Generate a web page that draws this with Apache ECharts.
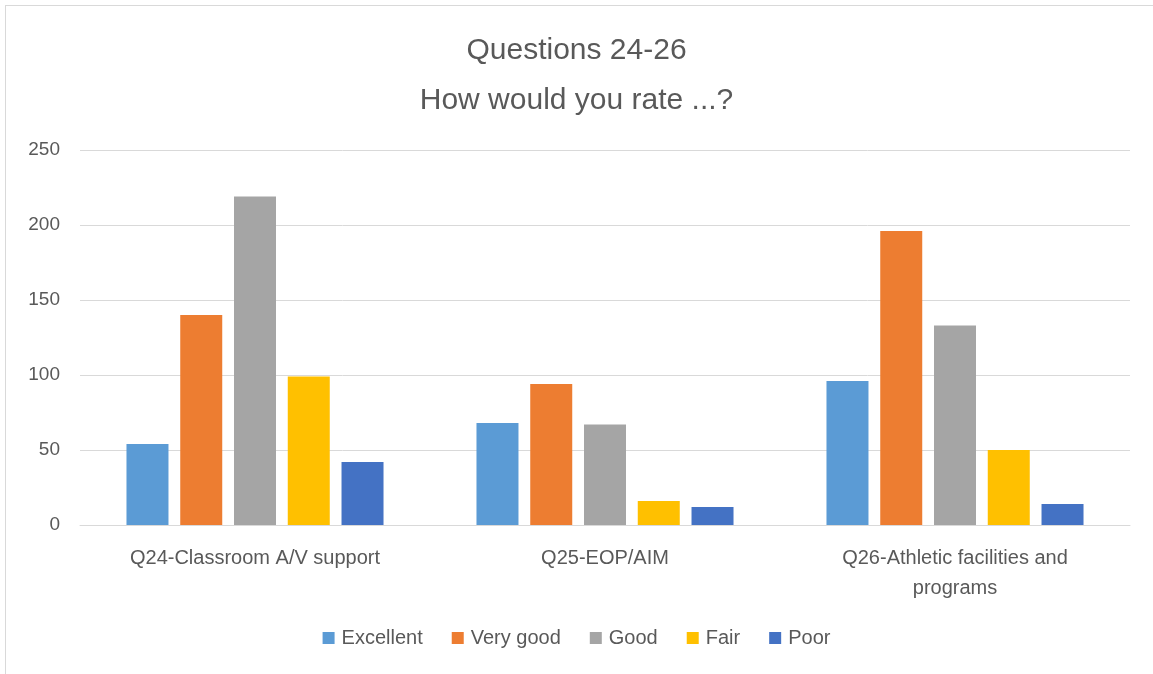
<!DOCTYPE html>
<html>
<head>
<meta charset="utf-8">
<script src="https://cdn.jsdelivr.net/npm/echarts@6/dist/echarts.min.js"></script>
<style>
  html, body { margin: 0; padding: 0; background: #fff; }
  #frame { position: absolute; left: 5px; top: 5px; width: 1160px; height: 680px; border: 1px solid #d9d9d9; }
  #main { position: absolute; left: 0; top: 0; width: 1153px; height: 674px; }
</style>
</head>
<body>
<div id="frame"></div>
<div id="main"></div>
<script>
var categories = ['Q24-Classroom A/V support', 'Q25-EOP/AIM', 'Q26-Athletic facilities and programs'];
var excellent = [54, 68, 96];
var veryGood = [140, 94, 196];
var good = [219, 67, 133];
var fair = [99, 16, 50];
var poor = [42, 12, 14];
var yTicks = [0, 50, 100, 150, 200, 250];

var myChart = echarts.init(document.getElementById('main'));
var textColor = '#595959';
var font = '"Liberation Sans", Arial, sans-serif';

// wrap long category names at word boundaries
function wrap(text) {
    var words = text.split(' ');
    var lines = [];
    var line = '';
    words.forEach(function (w) {
        if (line && (line + ' ' + w).length > 28) {
            lines.push(line);
            line = w;
        } else {
            line = line ? line + ' ' + w : w;
        }
    });
    lines.push(line);
    return lines.join('\n');
}

function bar(name, data, color) {
    return {
        name: name,
        type: 'bar',
        data: data,
        barWidth: 42,
        barGap: '28%',
        itemStyle: { color: color }
    };
}

myChart.setOption({
    animation: false,
    textStyle: { fontFamily: font },
    title: {
        text: 'Questions 24-26\nHow would you rate ...?',
        left: 'center',
        top: 21,
        textStyle: { fontSize: 30, fontWeight: 'normal', color: textColor, lineHeight: 50, fontFamily: font }
    },
    legend: {
        bottom: 21,
        left: 'center',
        itemWidth: 12,
        itemHeight: 12,
        itemGap: 29,
        icon: 'rect',
        textStyle: { fontSize: 20, color: textColor, fontFamily: font, padding: [0, 0, 0, 2] }
    },
    grid: { left: 80, right: 23, top: 150, bottom: 149 },
    xAxis: {
        type: 'category',
        data: categories,
        axisTick: { show: false },
        axisLine: { lineStyle: { color: '#d9d9d9', width: 1 } },
        axisLabel: {
            interval: 0,
            fontSize: 20, color: textColor, margin: 18, lineHeight: 30,
            fontFamily: font,
            formatter: wrap
        }
    },
    yAxis: {
        type: 'value',
        min: yTicks[0],
        max: yTicks[yTicks.length - 1],
        interval: 50,
        axisLine: { show: false },
        axisTick: { show: false },
        splitLine: { lineStyle: { color: '#d9d9d9', width: 1 } },
        axisLabel: { fontSize: 19, color: textColor, margin: 20, fontFamily: font }
    },
    series: [
        bar('Excellent', excellent, '#5b9bd5'),
        bar('Very good', veryGood, '#ed7d31'),
        bar('Good', good, '#a5a5a5'),
        bar('Fair', fair, '#ffc000'),
        bar('Poor', poor, '#4472c4')
    ]
});
</script>
</body>
</html>
